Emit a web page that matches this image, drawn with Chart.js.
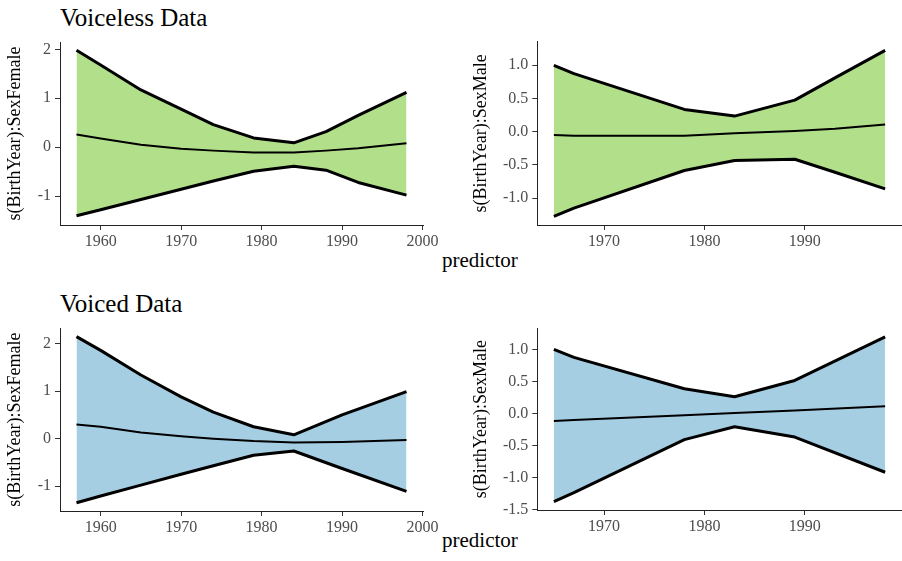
<!DOCTYPE html>
<html>
<head>
<meta charset="utf-8">
<script src="https://cdn.jsdelivr.net/npm/chart.js@4.4.1/dist/chart.umd.min.js"></script>
<style>
  body { margin: 0; background: #fff; }
  #fig { position: relative; width: 902px; height: 561px; overflow: hidden; font-family: "Liberation Serif", "DejaVu Serif", serif; }
  canvas { position: absolute; }
  .title { position: absolute; font-size: 25px; line-height: 1; color: #000; white-space: nowrap; }
  .xlab { position: absolute; font-size: 21px; line-height: 1; color: #000; white-space: nowrap; }
</style>
</head>
<body>
<div id="fig">
  <div class="title" style="left:60px; top:5px;">Voiceless Data</div>
  <div class="title" style="left:60px; top:291px;">Voiced Data</div>
  <div class="xlab" style="left:442px; top:250px;">predictor</div>
  <div class="xlab" style="left:442px; top:530px;">predictor</div>
  <canvas id="vlFemale" width="445" height="229" style="left:0px; top:26px;"></canvas>
  <canvas id="vlMale" width="447" height="229" style="left:455px; top:26px;"></canvas>
  <canvas id="vdFemale" width="445" height="229" style="left:0px; top:312px;"></canvas>
  <canvas id="vdMale" width="447" height="228" style="left:455px; top:312px;"></canvas>
</div>
<script>
// Voiceless, Female
const vlFemaleYears = [1957, 1960, 1965, 1970, 1974, 1979, 1984, 1988, 1992, 1998];
const vlFemaleUpper = [1.98, 1.68, 1.17, 0.78, 0.46, 0.19, 0.09, 0.32, 0.65, 1.12];
const vlFemaleFit   = [0.26, 0.18, 0.05, -0.03, -0.07, -0.11, -0.11, -0.07, -0.02, 0.08];
const vlFemaleLower = [-1.40, -1.28, -1.07, -0.86, -0.69, -0.49, -0.39, -0.47, -0.72, -0.98];

// Voiceless, Male
const vlMaleYears = [1965, 1967, 1978, 1983, 1989, 1993, 1998];
const vlMaleUpper = [1.0, 0.875, 0.335, 0.235, 0.475, 0.81, 1.225];
const vlMaleFit   = [-0.05, -0.06, -0.06, -0.025, 0.01, 0.045, 0.11];
const vlMaleLower = [-1.275, -1.15, -0.585, -0.435, -0.415, -0.61, -0.86];

// Voiced, Female
const vdFemaleYears = [1957, 1960, 1965, 1970, 1974, 1979, 1984, 1990, 1998];
const vdFemaleUpper = [2.15, 1.86, 1.34, 0.88, 0.56, 0.25, 0.08, 0.50, 0.99];
const vdFemaleFit   = [0.30, 0.25, 0.13, 0.05, 0.0, -0.05, -0.08, -0.07, -0.03];
const vdFemaleLower = [-1.35, -1.21, -0.98, -0.75, -0.57, -0.35, -0.26, -0.63, -1.11];

// Voiced, Male
const vdMaleYears = [1965, 1967, 1978, 1983, 1989, 1998];
const vdMaleUpper = [1.0, 0.875, 0.385, 0.26, 0.515, 1.195];
const vdMaleFit   = [-0.12, -0.105, -0.03, 0.005, 0.045, 0.11];
const vdMaleLower = [-1.38, -1.24, -0.41, -0.21, -0.37, -0.92];

const xTicksLeft = [1960, 1970, 1980, 1990, 2000];
const xTicksRight = [1970, 1980, 1990];
const yTicksFemale = [-1, 0, 1, 2];
const yTicksVlMale = [-1, -0.5, 0, 0.5, 1];
const yTicksVdMale = [-1.5, -1, -0.5, 0, 0.5, 1];

const GREEN = '#b2df8a';
const BLUE = '#a6cee3';

Chart.defaults.font.family = '"Liberation Serif", "DejaVu Serif", serif';

function pts(xs, ys) {
  return xs.map((x, i) => ({ x: x, y: ys[i] }));
}

function makePanel(id, p) {
  new Chart(document.getElementById(id), {
    type: 'line',
    data: {
      datasets: [
        { data: pts(p.years, p.upper), borderColor: '#000', borderWidth: 3, fill: '+2', backgroundColor: p.color },
        { data: pts(p.years, p.fit), borderColor: '#000', borderWidth: 2, fill: false },
        { data: pts(p.years, p.lower), borderColor: '#000', borderWidth: 3, fill: false }
      ]
    },
    options: {
      responsive: false,
      animation: false,
      devicePixelRatio: 1,
      elements: {
        point: { radius: 0 },
        line: { tension: 0, borderJoinStyle: 'round' }
      },
      layout: { padding: { top: p.padTop, right: p.padRight, bottom: 0, left: 0 } },
      plugins: {
        legend: { display: false },
        tooltip: { enabled: false },
        filler: { drawTime: 'beforeDatasetsDraw' }
      },
      scales: {
        x: {
          type: 'linear',
          min: p.xRange[0],
          max: p.xRange[1],
          afterBuildTicks: s => { s.ticks = p.xTicks.map(v => ({ value: v })); },
          afterFit: s => { s.height = 30; },
          grid: { display: true, drawOnChartArea: false, drawTicks: true, tickLength: 5, color: '#333' },
          border: { display: true, color: '#222', width: 1 },
          ticks: { color: '#4d4d4d', font: { size: 16 }, padding: 2, maxRotation: 0, callback: v => String(v) }
        },
        y: {
          type: 'linear',
          min: p.yRange[0],
          max: p.yRange[1],
          afterBuildTicks: s => { s.ticks = p.yTicks.map(v => ({ value: v })); },
          afterFit: s => { s.width = p.yWidth; },
          grid: { display: true, drawOnChartArea: false, drawTicks: true, tickLength: 5, color: '#333' },
          border: { display: true, color: '#222', width: 1 },
          ticks: { color: '#4d4d4d', font: { size: 16 }, padding: 4, callback: v => v.toFixed(p.decimals) },
          title: { display: true, text: p.yTitle, color: '#000', font: { size: 18 }, padding: { top: p.titlePad, bottom: 0 } }
        }
      }
    }
  });
}

makePanel('vlFemale', {
  years: vlFemaleYears, upper: vlFemaleUpper, fit: vlFemaleFit, lower: vlFemaleLower, color: GREEN,
  xRange: [1954.95, 2000.05], yRange: [-1.59, 2.15], xTicks: xTicksLeft, yTicks: yTicksFemale, decimals: 0,
  yTitle: 's(BirthYear):SexFemale', padTop: 16, padRight: 22, yWidth: 60, titlePad: 4.2
});
makePanel('vlMale', {
  years: vlMaleYears, upper: vlMaleUpper, fit: vlMaleFit, lower: vlMaleLower, color: GREEN,
  xRange: [1963.35, 1999.65], yRange: [-1.405, 1.355], xTicks: xTicksRight, yTicks: yTicksVlMale, decimals: 1,
  yTitle: 's(BirthYear):SexMale', padTop: 15.7, padRight: 0.3, yWidth: 82.3, titlePad: 15.9
});
makePanel('vdFemale', {
  years: vdFemaleYears, upper: vdFemaleUpper, fit: vdFemaleFit, lower: vdFemaleLower, color: BLUE,
  xRange: [1954.95, 2000.05], yRange: [-1.525, 2.325], xTicks: xTicksLeft, yTicks: yTicksFemale, decimals: 0,
  yTitle: 's(BirthYear):SexFemale', padTop: 16.3, padRight: 22, yWidth: 60, titlePad: 4.2
});
makePanel('vdMale', {
  years: vdMaleYears, upper: vdMaleUpper, fit: vdMaleFit, lower: vdMaleLower, color: BLUE,
  xRange: [1963.35, 1999.65], yRange: [-1.51, 1.33], xTicks: xTicksRight, yTicks: yTicksVdMale, decimals: 1,
  yTitle: 's(BirthYear):SexMale', padTop: 16.3, padRight: 0.3, yWidth: 82.3, titlePad: 15.9
});
</script>
</body>
</html>
